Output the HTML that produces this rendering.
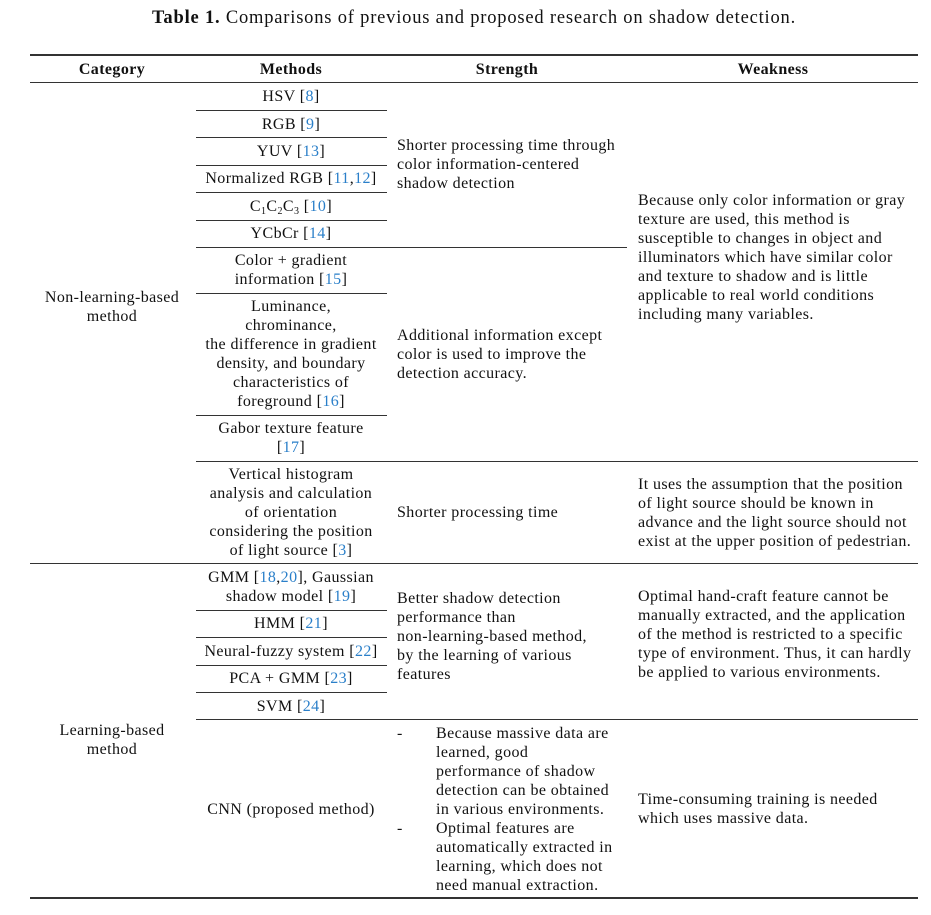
<!DOCTYPE html>
<html><head><meta charset="utf-8"><style>
html,body{margin:0;padding:0;background:#fff;}
body{width:931px;height:915px;position:relative;overflow:hidden;font-family:"Liberation Serif",serif;font-size:16px;letter-spacing:0.4px;color:#111;}
.t{position:absolute;line-height:19px;white-space:nowrap;}
.c{text-align:center;transform:translateX(-50%);}
.l{position:absolute;height:1px;background:#333;}
.b{font-weight:bold;}
.r{color:#2a7fc9;}
sub{font-size:10px;vertical-align:-3px;line-height:0;}
</style></head><body>
<div class="t c" style="left:474px;top:8px;font-size:18.5px;letter-spacing:0.8px;line-height:20px;"><span class="b">Table 1.</span> Comparisons of previous and proposed research on shadow detection.</div>

<div class="l" style="left:30px;width:888px;top:54px;height:1.5px;"></div>
<div class="l" style="left:30px;width:888px;top:82px;"></div>
<div class="l" style="left:30px;width:888px;top:563px;"></div>
<div class="l" style="left:30px;width:888px;top:897px;height:1.5px;"></div>

<div class="l" style="left:196px;width:191px;top:110px;"></div>
<div class="l" style="left:196px;width:191px;top:137px;"></div>
<div class="l" style="left:196px;width:191px;top:165px;"></div>
<div class="l" style="left:196px;width:191px;top:192px;"></div>
<div class="l" style="left:196px;width:191px;top:220px;"></div>
<div class="l" style="left:196px;width:431px;top:247px;"></div>
<div class="l" style="left:196px;width:191px;top:293px;"></div>
<div class="l" style="left:196px;width:191px;top:415px;"></div>
<div class="l" style="left:196px;width:722px;top:461px;"></div>
<div class="l" style="left:196px;width:191px;top:610px;"></div>
<div class="l" style="left:196px;width:191px;top:637px;"></div>
<div class="l" style="left:196px;width:191px;top:665px;"></div>
<div class="l" style="left:196px;width:191px;top:692px;"></div>
<div class="l" style="left:196px;width:722px;top:719px;"></div>

<div class="t c b" style="left:112px;top:60px;">Category</div>
<div class="t c b" style="left:291px;top:60px;">Methods</div>
<div class="t c b" style="left:507px;top:60px;">Strength</div>
<div class="t c b" style="left:773px;top:60px;">Weakness</div>

<div class="t c" style="left:112px;top:288px;">Non-learning-based<br>method</div>
<div class="t c" style="left:112px;top:721px;">Learning-based<br>method</div>

<div class="t c" style="left:291px;top:87px;">HSV [<span class="r">8</span>]</div>
<div class="t c" style="left:291px;top:115px;">RGB [<span class="r">9</span>]</div>
<div class="t c" style="left:291px;top:142px;">YUV [<span class="r">13</span>]</div>
<div class="t c" style="left:291px;top:169px;">Normalized RGB [<span class="r">11</span>,<span class="r">12</span>]</div>
<div class="t c" style="left:291px;top:197px;">C<sub>1</sub>C<sub>2</sub>C<sub>3</sub> [<span class="r">10</span>]</div>
<div class="t c" style="left:291px;top:224px;">YCbCr [<span class="r">14</span>]</div>
<div class="t c" style="left:291px;top:251px;">Color + gradient<br>information [<span class="r">15</span>]</div>
<div class="t c" style="left:291px;top:297px;">Luminance,<br>chrominance,<br>the difference in gradient<br>density, and boundary<br>characteristics of<br>foreground [<span class="r">16</span>]</div>
<div class="t c" style="left:291px;top:419px;">Gabor texture feature<br>[<span class="r">17</span>]</div>
<div class="t c" style="left:291px;top:465px;">Vertical histogram<br>analysis and calculation<br>of orientation<br>considering the position<br>of light source [<span class="r">3</span>]</div>
<div class="t c" style="left:291px;top:568px;">GMM [<span class="r">18</span>,<span class="r">20</span>], Gaussian<br>shadow model [<span class="r">19</span>]</div>
<div class="t c" style="left:291px;top:614px;">HMM [<span class="r">21</span>]</div>
<div class="t c" style="left:291px;top:642px;">Neural-fuzzy system [<span class="r">22</span>]</div>
<div class="t c" style="left:291px;top:669px;">PCA + GMM [<span class="r">23</span>]</div>
<div class="t c" style="left:291px;top:697px;">SVM [<span class="r">24</span>]</div>
<div class="t c" style="left:291px;top:800px;">CNN (proposed method)</div>

<div class="t" style="left:397px;top:136px;">Shorter processing time through<br>color information-centered<br>shadow detection</div>
<div class="t" style="left:397px;top:326px;">Additional information except<br>color is used to improve the<br>detection accuracy.</div>
<div class="t" style="left:397px;top:503px;">Shorter processing time</div>
<div class="t" style="left:397px;top:589px;">Better shadow detection<br>performance than<br>non-learning-based method,<br>by the learning of various<br>features</div>
<div class="t" style="left:397px;top:724px;">-</div>
<div class="t" style="left:397px;top:819px;">-</div>
<div class="t" style="left:436px;top:724px;">Because massive data are<br>learned, good<br>performance of shadow<br>detection can be obtained<br>in various environments.<br>Optimal features are<br>automatically extracted in<br>learning, which does not<br>need manual extraction.</div>

<div class="t" style="left:638px;top:191px;">Because only color information or gray<br>texture are used, this method is<br>susceptible to changes in object and<br>illuminators which have similar color<br>and texture to shadow and is little<br>applicable to real world conditions<br>including many variables.</div>
<div class="t" style="left:638px;top:475px;">It uses the assumption that the position<br>of light source should be known in<br>advance and the light source should not<br>exist at the upper position of pedestrian.</div>
<div class="t" style="left:638px;top:587px;">Optimal hand-craft feature cannot be<br>manually extracted, and the application<br>of the method is restricted to a specific<br>type of environment. Thus, it can hardly<br>be applied to various environments.</div>
<div class="t" style="left:638px;top:790px;">Time-consuming training is needed<br>which uses massive data.</div>
</body></html>
